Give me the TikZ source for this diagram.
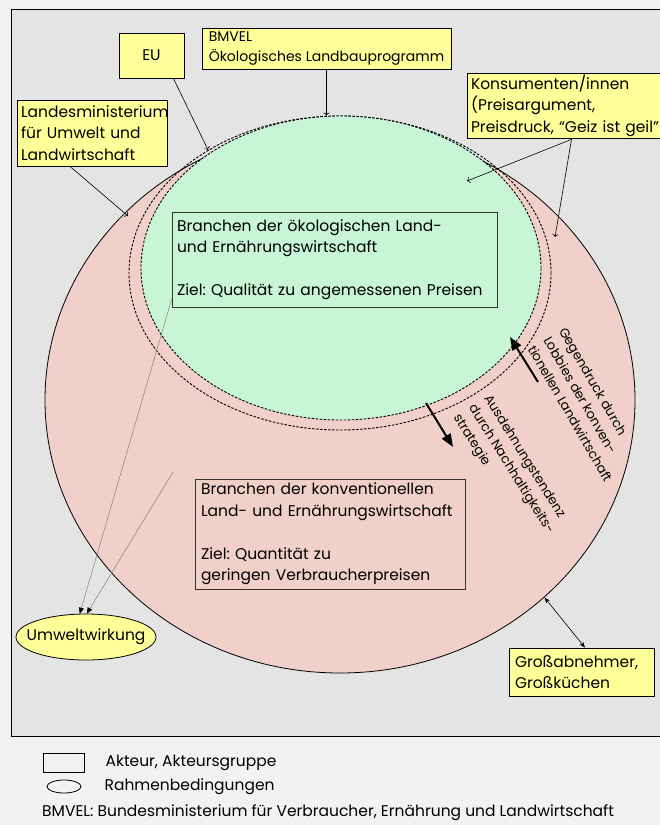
\documentclass[tikz,border=0pt]{standalone}
\usepackage{fontspec}
\setmainfont{Poppins}
\usetikzlibrary{shapes.geometric, arrows.meta, positioning}
\definecolor{pagegrey}{HTML}{F2F2F2}
\definecolor{panelgrey}{HTML}{E4E4E4}
\definecolor{actoryellow}{HTML}{FFFF99}
\definecolor{oekogreen}{HTML}{C8F5D6}
\definecolor{konvpink}{HTML}{F0D0C8}
\newcommand{\boxfont}{\fontsize{15.5}{21.5}\selectfont}
\newcommand{\turnfont}{\fontsize{13}{18}\selectfont}
\frenchspacing

\begin{document}
\begin{tikzpicture}[
        x=1pt, y=-1pt,
        actor/.style={rectangle, draw=black, line width=0.8pt, fill=actoryellow, align=left, font=\boxfont, inner xsep=4pt, inner ysep=0pt},
        branch/.style={rectangle, draw=black!80, line width=0.8pt, align=left, font=\boxfont, inner xsep=5pt, inner ysep=0pt},
        frame/.style={ellipse, draw=black, line width=0.8pt, fill=actoryellow, inner xsep=-14pt, inner ysep=0pt},
        zone/.style={ellipse, inner sep=0pt},
        ring/.style={dash pattern=on 2.5pt off 1.5pt, line width=0.9pt},
        arrow/.style={line width=0.6pt, ->},
        push/.style={line width=2pt, -{Triangle[length=13pt, width=10pt]}},
        effect/.style={draw=black!50, line width=0.5pt, -{Triangle[black, length=6pt, width=5pt]}},
        turned/.style={align=left, font=\turnfont, inner sep=0pt, anchor=north west}
    ]

        % Background and panel
        \useasboundingbox (0,0) rectangle (660,825);
        \fill[pagegrey] (0,0) rectangle (660,825);
        \draw[fill=panelgrey, line width=0.8pt] (11,9) rectangle (672,736);

        % Zones: conventional, ring, organic
        \node (konvzone) [zone, draw=black, line width=0.8pt, fill=konvpink, minimum width=590pt, minimum height=546pt] at (340,400) {};
        \node (oekoring) [zone, draw=black, ring, minimum width=422pt, minimum height=314pt] at (340,273) {};
        \node (oekozone) [zone, draw=black, ring, fill=oekogreen, minimum width=400pt, minimum height=304pt] at (341,268) {};

        % Actors
        \node (eu) [actor, align=center, minimum width=65pt, minimum height=45pt] at (151.5,55.5) {EU};
        \node (bmvel) [actor, minimum width=249pt, minimum height=41pt, inner xsep=3pt, font=\fontsize{14}{20}\selectfont] at (326.5,48.5) {BMVEL\\Ökologisches Landbauprogramm};
        \node (landes) [actor, text width=142pt, minimum height=66pt] at (92,133) {Landesministerium\\für Umwelt und\\Landwirtschaft};
        \node (konsum) [actor, text width=197pt, minimum height=65pt] at (569.5,105.5) {Konsumenten/innen\\(Preisargument,\\Preisdruck, “Geiz ist geil”};
        \node (gross) [actor, text width=133pt, minimum height=48pt, inner xsep=6pt] at (581.5,672) {Großabnehmer,\\Großküchen};

        % Branches
        \node (oeko) [branch, fill=oekogreen, text width=315pt, minimum height=95pt] at (334.5,259.5) {Branchen der ökologischen Land-\\und Ernährungswirtschaft\\[21.5pt]Ziel: Qualität zu angemessenen Preisen};
        \node (konv) [branch, fill=konvpink, text width=258pt, minimum height=110pt, inner xsep=6pt] at (330,534) {Branchen der konventionellen\\Land- und Ernährungswirtschaft\\[21.5pt]Ziel: Quantität zu\\geringen Verbraucherpreisen};

        % Framework
        \node (umwelt) [frame, minimum width=140pt, minimum height=46pt, font=\boxfont] at (86,637) {Umweltwirkung};

        % Free ends
        \coordinate (landesend) at (128,216);
        \coordinate (konsumgreen) at (467,181);
        \coordinate (konsumpink) at (555,237);
        \coordinate (gegenstart) at (538,382);
        \coordinate (gegenend) at (510,337);
        \coordinate (ausstart) at (426,403);
        \coordinate (ausend) at (453,447);
        \coordinate (oekoeffect) at (172,298);
        \coordinate (konveffect) at (173,472);

        % Arrows from actors
        \draw [arrow] (bmvel.south) -- (bmvel.south |- oekozone.north);
        \draw [arrow] (eu.south east) ++(-11,0) coordinate (eustart) -- (oekoring.137);
        \draw [arrow] (landes.south) ++(-22,0) coordinate (landesstart) -- (landesend);
        \draw [arrow] (konsum.south) ++(2,1) coordinate (konsumstart) -- (konsumgreen);
        \draw [arrow] (konsumstart) -- (konsumpink);
        \draw [line width=0.6pt, {Stealth[length=6pt]}-{Stealth[length=6pt]}] (konvzone.-44) -- (gross.north -| 585,0);

        % Pressure between zones
        \draw [push] (gegenstart) -- (gegenend);
        \draw [push] (ausstart) -- (ausend);
        \node (gegentext) [turned, rotate=-60] at (567,326) {Gegendruck durch\\Lobbies der konven-\\tionellen Landwirtschaft};
        \node (austext) [turned, rotate=-58] at (492,393) {Ausdehnungstendenz\\durch Nachhaltigkeits-\\strategie};

        % Effects on environment
        \draw [effect] (oekoeffect) -- (umwelt.105);
        \draw [effect] (konveffect) -- (umwelt.88);

        % Legend
        \node (legendbox) [rectangle, draw=black, line width=0.8pt, minimum width=41pt, minimum height=19pt, inner sep=0pt] at (63.5,762.5) {};
        \node (legendframe) [ellipse, draw=black, line width=0.8pt, minimum width=34pt, minimum height=13pt, inner sep=0pt] at (64,786.5) {};
        \node (legendactor) [right=21pt of legendbox, inner sep=0pt, font=\boxfont] {Akteur, Akteursgruppe};
        \node (legendframetext) [right=23pt of legendframe, inner sep=0pt, font=\boxfont] {Rahmenbedingungen};
        \node (abbrev) [anchor=west, inner sep=0pt, font=\boxfont] at (42,813) {BMVEL: Bundesministerium für Verbraucher, Ernährung und Landwirtschaft};

    \end{tikzpicture}
\end{document}
